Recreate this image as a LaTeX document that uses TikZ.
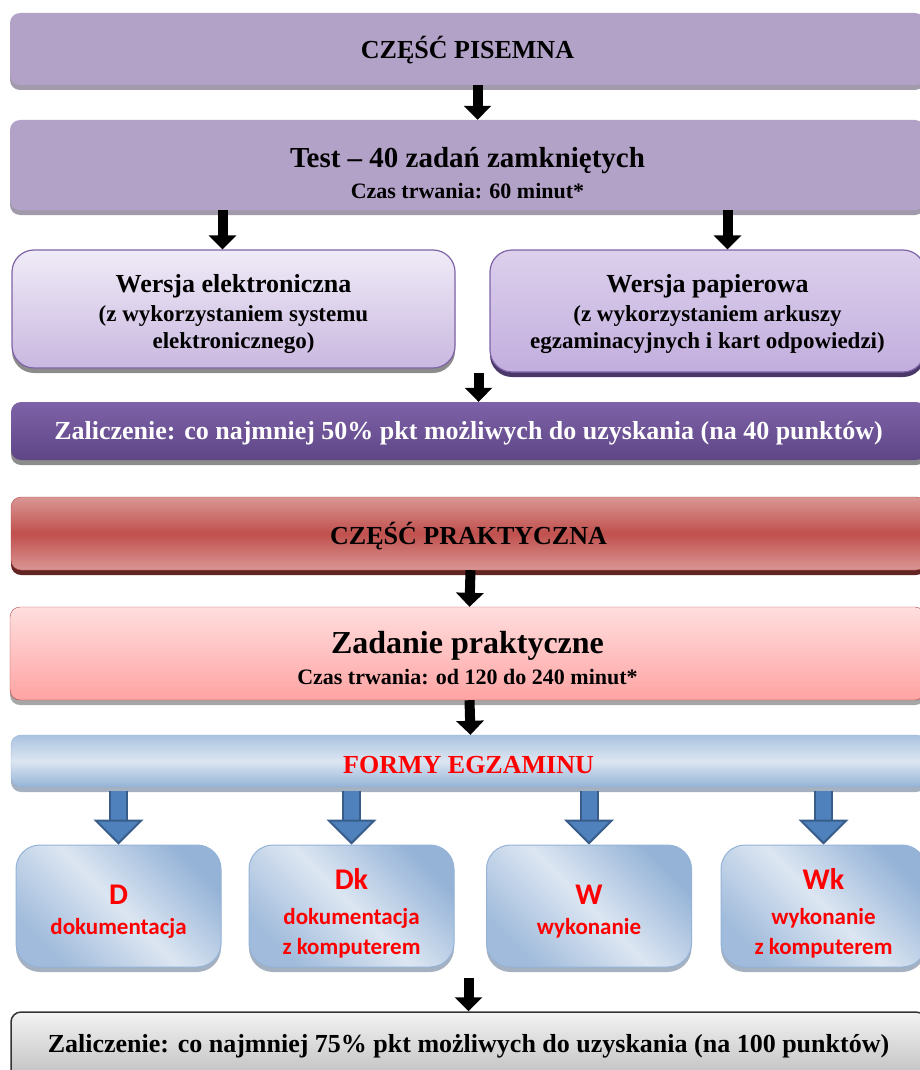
\documentclass[tikz,border=0pt]{standalone}
\usepackage{fontspec}
\setmainfont{Liberation Serif}
\newfontfamily\calfont{Carlito}
\usetikzlibrary{arrows.meta}
\usetikzlibrary{shadows}
\definecolor{lavflat}{HTML}{B3A2C7}
\definecolor{lavshadow}{HTML}{A09AAA}
\definecolor{lavtop}{HTML}{F0EBF7}
\definecolor{lavbot}{HTML}{C9B8E0}
\definecolor{lavtopb}{HTML}{DCD0EC}
\definecolor{lavbotb}{HTML}{C2AEDE}
\definecolor{lavline}{HTML}{7E64A6}
\definecolor{purptop}{HTML}{7E62A8}
\definecolor{purpbot}{HTML}{5E4686}
\definecolor{purpdeep}{HTML}{4A3868}
\definecolor{redmid}{HTML}{C0504D}
\definecolor{redlight}{HTML}{D99694}
\definecolor{redline}{HTML}{B04A47}
\definecolor{redshadow}{HTML}{632523}
\definecolor{pinktop}{HTML}{FFDEDE}
\definecolor{pinkbot}{HTML}{FFA3A3}
\definecolor{bluelight}{HTML}{DCE6F2}
\definecolor{bluemid}{HTML}{95B3D7}
\definecolor{blueshaft}{HTML}{4F81BD}
\definecolor{bluedark}{HTML}{385D8A}
\definecolor{greytop}{HTML}{F2F2F2}
\definecolor{greybot}{HTML}{BFBFBF}
\newcommand{\smallline}{\fontsize{23}{27}\selectfont}
\newcommand{\bigletter}{\fontsize{30}{34}\selectfont}
\newcommand{\pushdown}[1]{\rule{0pt}{#1}}
\tikzset{>=Triangle}

\begin{document}
\begin{tikzpicture}[x=1pt, y=-1pt]
        % pixel grid, y grows downwards
        \tikzstyle{every node}=[rectangle, inner sep=0pt, align=center, font=\bfseries\fontsize{26}{31}\selectfont]
        \tikzstyle{every edge}=[black, line width=10pt, -{Triangle[width=27pt,length=14pt]}, draw]
        \tikzstyle{wide}=[minimum width=915pt, rounded corners=10pt]
        \tikzstyle{shad}=[drop shadow={shadow xshift=0pt, shadow yshift=-5pt, fill=#1, opacity=1}]
        \tikzstyle{formbox}=[rounded corners=24pt, draw=bluemid, line width=1pt,
                top color=bluemid, bottom color=bluemid!90, middle color=bluelight, shading angle=-45,
                shad=bluemid!70!black!60, minimum width=205pt, minimum height=122pt,
                text=red, font=\calfont\bfseries\fontsize{23}{30}\selectfont]
        \tikzstyle{bluearrow}=[draw=bluedark, line width=2pt, double=blueshaft, double distance=15pt,
                -{Triangle[width=50pt,length=25pt,fill=blueshaft,color=bluedark,line width=2pt]}]
        \useasboundingbox (0,0) rectangle (920,1070);

        \node[wide, minimum height=72pt, fill=lavflat, shad=lavshadow, text height=19pt, text depth=0pt]
                (pis) at (467.5,49) {CZĘŚĆ PISEMNA};
        \node[wide, minimum height=90pt, fill=lavflat, shad=lavshadow] (test) at (467.5,165)
                {{\fontsize{29}{33}\selectfont\pushdown{36pt}Test -- 40 zadań zamkniętych}\\
                 {\fontsize{22}{26}\selectfont Czas trwania: 60 minut*}};
        \node[minimum width=443pt, minimum height=118pt, rounded corners=22pt, draw=lavline, line width=1.2pt,
                top color=lavtop, bottom color=lavbot, shad=black!45] (elek) at (233.5,309)
                {\pushdown{29pt}Wersja elektroniczna\\[-2pt]
                 {\smallline (z wykorzystaniem systemu}\\[-4pt] {\smallline elektronicznego)}};
        \node[minimum width=435pt, minimum height=122pt, rounded corners=22pt, draw=lavline, line width=1.2pt,
                top color=lavtopb, bottom color=lavbotb, shad=purpdeep] (pap) at (707.5,311)
                {\pushdown{25pt}Wersja papierowa\\[-2pt]
                 {\smallline (z wykorzystaniem arkuszy}\\[-4pt] {\smallline egzaminacyjnych i kart odpowiedzi)}};
        \node[wide, minimum height=58pt, top color=purptop, bottom color=purpbot, shad=black!45, text=white]
                (zal1) at (468.5,431) {\pushdown{22pt}Zaliczenie: co najmniej 50\% pkt możliwych do uzyskania (na 40 punktów)};

        \node[wide, minimum height=73pt, draw=redline, top color=redlight, bottom color=redlight,
                middle color=redmid, shad=redshadow, text height=22pt, text depth=0pt]
                (prak) at (468.5,533.5) {CZĘŚĆ PRAKTYCZNA};
        \node[wide, minimum height=93pt, draw=redline, top color=pinktop, bottom color=pinkbot, shad=black!35]
                (zad) at (467.5,653.5)
                {{\fontsize{32}{36}\selectfont\pushdown{32pt}Zadanie praktyczne}\\
                 {\fontsize{22}{26}\selectfont Czas trwania: od 120 do 240 minut*}};
        \node[wide, minimum height=52pt, draw=bluemid, top color=bluemid!80, bottom color=bluemid,
                middle color=bluelight, shad=bluemid!70!black!60, text=red,
                text height=25pt, text depth=0pt] (formy) at (468.5,761) {FORMY EGZAMINU};

        \node[formbox] (d) at (118.5,906) {{\bigletter\pushdown{31.5pt}D}\\ dokumentacja};
        \node[formbox] (dk) at (351.5,906) {{\bigletter\pushdown{35pt}Dk}\\[5pt] dokumentacja\\ z komputerem};
        \node[formbox] (w) at (589,906) {{\bigletter\pushdown{31.5pt}W}\\ wykonanie};
        \node[formbox] (wk) at (823.5,906) {{\bigletter\pushdown{35pt}Wk}\\[5pt] wykonanie\\ z komputerem};

        \node[wide, minimum height=68pt, draw=black!80, line width=1.5pt, top color=greytop,
                bottom color=greybot] (zal2) at (468.5,1046)
                {Zaliczenie: co najmniej 75\% pkt możliwych do uzyskania (na 100 punktów)};

        \draw ([xshift=10pt]pis.south) edge ([xshift=10pt]test.north);
        \draw ([xshift=-11pt]elek.north |- test.south) edge ([xshift=-11pt]elek.north);
        \draw ([xshift=20pt]pap.north |- test.south) edge ([xshift=20pt]pap.north);
        \draw ([xshift=10pt]zal1.north |- pap.south) edge ([xshift=10pt]zal1.north);
        \draw ([xshift=2pt]prak.south) edge ([xshift=2pt]zad.north);
        \draw ([xshift=2pt]zad.south) edge ([xshift=2pt]formy.north);
        \draw ([yshift=-10pt]zal2.north |- dk.south) edge (zal2.north);

        \foreach \f in {d, dk, w, wk}
                \draw[bluearrow] ([yshift=-4pt]formy.south -| \f.north) -- (\f.north);
\end{tikzpicture}
\end{document}
